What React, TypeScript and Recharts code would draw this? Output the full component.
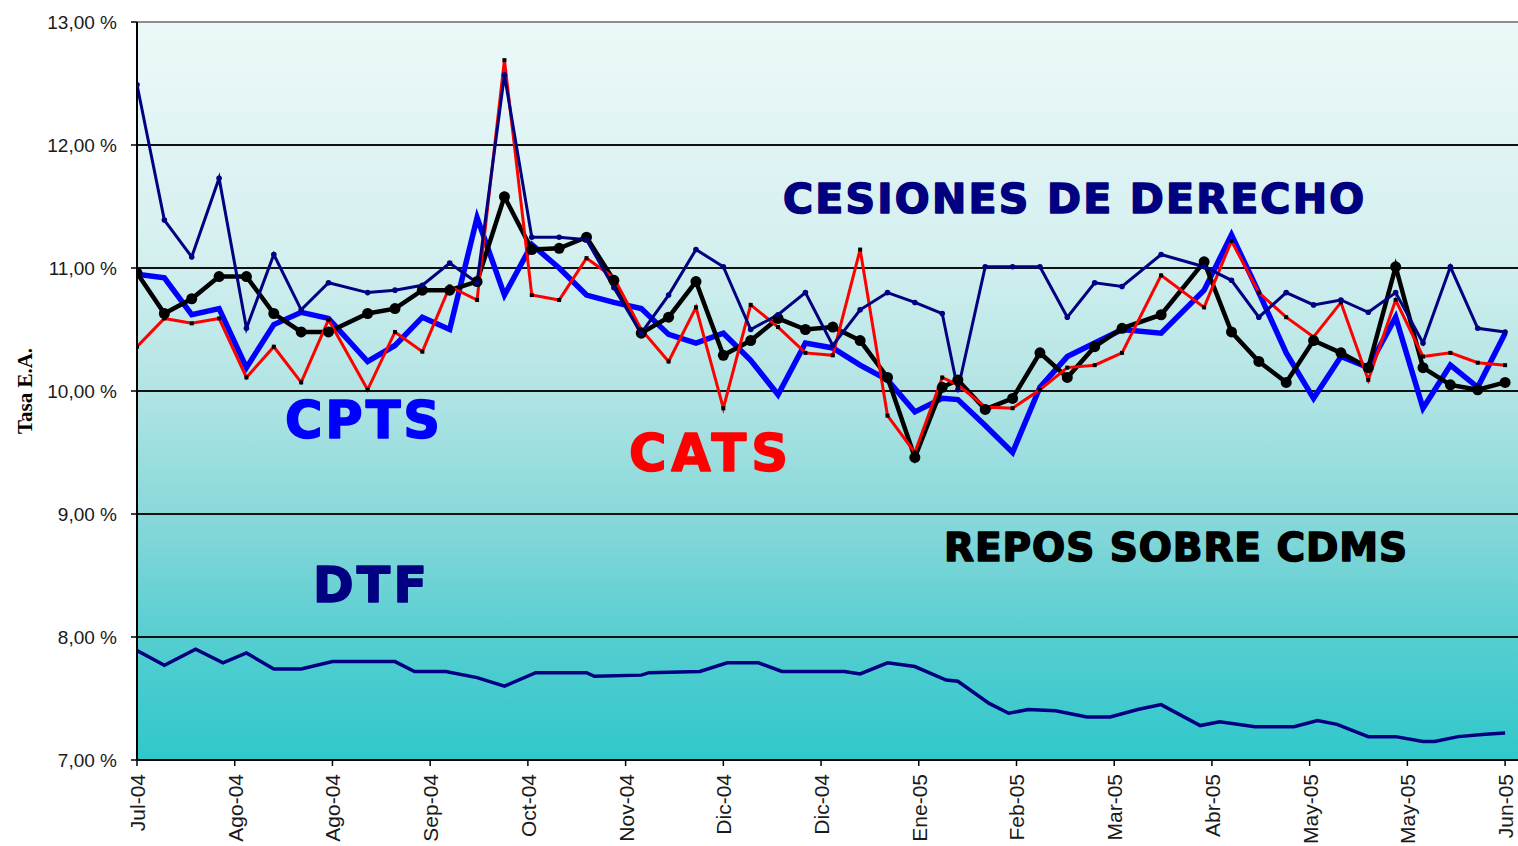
import React from 'react';
import { LineChart, Line, XAxis, YAxis, ReferenceLine, ReferenceDot, CartesianGrid } from 'recharts';

// X axis: tick every 25 days, labels as printed
const tickLabels = ['Jul-04', 'Ago-04', 'Ago-04', 'Sep-04', 'Oct-04', 'Nov-04', 'Dic-04', 'Dic-04', 'Ene-05', 'Feb-05', 'Mar-05', 'Abr-05', 'May-05', 'May-05', 'Jun-05'];
const tickDays = tickLabels.map((_, i) => i * 25);
const yTicks = [7, 8, 9, 10, 11, 12, 13];

// Weekly observations (day offset from first tick)
const days = [0, 7, 14, 21, 28, 35, 42, 49, 59, 66, 73, 80, 87, 94, 101, 108, 115, 122, 129, 136, 143, 150, 157, 164, 171, 178, 185, 192, 199, 206, 210, 217, 224, 231, 238, 245, 252, 262, 273, 280, 287, 294, 301, 308, 315, 322, 329, 336, 343, 350];

const repos = [10.96, 10.63, 10.75, 10.93, 10.93, 10.63, 10.48, 10.48, 10.63, 10.67,
  10.82, 10.82, 10.89, 11.58, 11.15, 11.16, 11.25, 10.90, 10.47, 10.60,
  10.89, 10.29, 10.41, 10.59, 10.50, 10.52, 10.41, 10.11, 9.46, 10.03,
  10.09, 9.85, 9.94, 10.31, 10.11, 10.36, 10.51, 10.62, 11.05, 10.48,
  10.24, 10.07, 10.41, 10.31, 10.19, 11.01, 10.19, 10.05, 10.01, 10.07];

const cats = [10.36, 10.59, 10.55, 10.59, 10.11, 10.36, 10.07, 10.58, 10.01, 10.48,
  10.32, 10.85, 10.74, 12.69, 10.78, 10.74, 11.08, 10.92, 10.50, 10.24,
  10.68, 9.86, 10.70, 10.52, 10.31, 10.29, 11.15, 9.80, 9.50, 10.11,
  10.05, 9.87, 9.86, 10.01, 10.19, 10.21, 10.31, 10.94, 10.68, 11.22,
  10.80, 10.60, 10.44, 10.72, 10.09, 10.74, 10.28, 10.31, 10.23, 10.21];

const cpts = [10.95, 10.92, 10.62, 10.67, 10.19, 10.54, 10.64, 10.59, 10.24, 10.37,
  10.60, 10.50, 11.41, 10.78, 11.19, 11.00, 10.78, 10.72, 10.67, 10.46,
  10.39, 10.47, 10.25, 9.97, 10.39, 10.35, 10.21, 10.09, 9.83, 9.94,
  9.93, 9.72, 9.50, 10.03, 10.28, 10.39, 10.50, 10.47, 10.82, 11.27,
  10.80, 10.31, 9.94, 10.28, 10.19, 10.60, 9.86, 10.21, 10.03, 10.47];

const cesiones = [12.49, 11.39, 11.09, 11.73, 10.51, 11.11, 10.66, 10.88, 10.80, 10.82,
  10.86, 11.04, 10.88, 12.57, 11.25, 11.25, 11.23, 10.84, 10.47, 10.78,
  11.15, 11.01, 10.50, 10.62, 10.80, 10.37, 10.66, 10.80, 10.72, 10.63,
  10.01, 11.01, 11.01, 11.01, 10.60, 10.88, 10.85, 11.11, 11.01, 10.90,
  10.60, 10.80, 10.70, 10.74, 10.64, 10.80, 10.39, 11.01, 10.51, 10.48];

// DTF observations
const dtfDays = [0, 7, 15, 22, 28, 35, 42, 50, 66, 71, 79, 87, 94, 102, 115, 117, 129, 131, 144, 151, 159, 165, 181, 185, 192, 199, 207, 210, 218, 223, 228, 235, 243, 249, 256, 262, 272, 277, 286, 296, 302, 307, 315, 322, 329, 332, 338, 345, 350];
const dtfValues = [7.89, 7.77, 7.90, 7.79, 7.87, 7.74, 7.74, 7.80, 7.80, 7.72, 7.72, 7.67, 7.60, 7.71, 7.71, 7.68,
  7.69, 7.71, 7.72, 7.79, 7.79, 7.72, 7.72, 7.70, 7.79, 7.76, 7.65, 7.64, 7.46, 7.38, 7.41, 7.40,
  7.35, 7.35, 7.41, 7.45, 7.28, 7.31, 7.27, 7.27, 7.32, 7.29, 7.19, 7.19, 7.15, 7.15, 7.19, 7.21, 7.22];

// Series captions placed in data coordinates
const captions = [
  { text: 'CESIONES DE DERECHO', day: 239.6, value: 11.447, color: '#000080', size: 41, width: 581 },
  { text: 'CPTS', day: 57.7, value: 9.618, color: '#0000FF', size: 51, width: 155 },
  { text: 'CATS', day: 146.2, value: 9.35, color: '#FF0000', size: 51, width: 159 },
  { text: 'REPOS SOBRE CDMS', day: 265.7, value: 8.618, color: '#000000', size: 39, width: 463 },
  { text: 'DTF', day: 59.6, value: 8.285, color: '#000080', size: 49, width: 114 },
];

type Row = { day: number; repos?: number; cats?: number; cpts?: number; cesiones?: number; dtf?: number };
const rowMap = new Map<number, Row>();
days.forEach((d, i) => {
  rowMap.set(d, { day: d, repos: repos[i], cats: cats[i], cpts: cpts[i], cesiones: cesiones[i] });
});
dtfDays.forEach((d, i) => {
  const r = rowMap.get(d) || { day: d };
  r.dtf = dtfValues[i];
  rowMap.set(d, r);
});
const data = Array.from(rowMap.values()).sort((a, b) => a.day - b.day);

const TICK_FONT = "'Liberation Sans', Arial, sans-serif";

const YTick = (props: any) => {
  const { x, y, payload } = props;
  const label = Number(payload.value).toFixed(2).replace('.', ',') + ' %';
  return (
    <text x={x} y={y + 7} textAnchor="end" fontFamily={TICK_FONT} fontSize={19} fill="#1a1a1a">
      {label}
    </text>
  );
};

const XTick = (props: any) => {
  const { x, y, payload } = props;
  const label = tickLabels[Math.round(payload.value / 25)];
  return (
    <text transform={`translate(${x + 8},${y}) rotate(-90)`} textAnchor="end" fontFamily={TICK_FONT} fontSize={21} fill="#1a1a1a">
      {label}
    </text>
  );
};

const SquareDot = (props: any) => {
  const { cx, cy, index } = props;
  if (cx == null || cy == null || isNaN(cy)) return <g key={`sq-${index}`} />;
  return <rect key={`sq-${index}`} x={cx - 2} y={cy - 2} width={4} height={4} fill="#000" />;
};

const SmallDot = (props: any) => {
  const { cx, cy, index } = props;
  if (cx == null || cy == null || isNaN(cy)) return <g key={`sd-${index}`} />;
  return <circle key={`sd-${index}`} cx={cx} cy={cy} r={2.8} fill="#000080" />;
};

const BigDot = (props: any) => {
  const { cx, cy, index } = props;
  if (cx == null || cy == null || isNaN(cy)) return <g key={`bd-${index}`} />;
  return <circle key={`bd-${index}`} cx={cx} cy={cy} r={5.5} fill="#000" />;
};

export default function App() {
  return (
    <div style={{ position: 'absolute', left: 0, top: 0, width: 1518, height: 846, background: '#fff' }}>
      <LineChart width={1518} height={846} data={data} margin={{ top: 22, right: 0, bottom: 0, left: 0 }}>
        <defs>
          <linearGradient id="bgGrad" x1="0" y1="0" x2="0" y2="1">
            <stop offset="0%" stopColor="#EDF8F8" />
            <stop offset="30%" stopColor="#D6F0F0" />
            <stop offset="50%" stopColor="#B2E4E4" />
            <stop offset="70%" stopColor="#80D6D8" />
            <stop offset="85%" stopColor="#52CDD0" />
            <stop offset="100%" stopColor="#30C8CB" />
          </linearGradient>
        </defs>
        <CartesianGrid horizontal={false} vertical={false} fill="url(#bgGrad)" fillOpacity={1} />
        <XAxis
          dataKey="day"
          type="number"
          domain={[0, 353.3]}
          ticks={tickDays}
          interval={0}
          allowDataOverflow
          height={86}
          tickSize={6}
          tickMargin={8}
          tick={<XTick />}
          axisLine={{ stroke: '#000', strokeWidth: 2 }}
          tickLine={{ stroke: '#000', strokeWidth: 1.5 }}
        />
        <YAxis
          type="number"
          domain={[7, 13]}
          ticks={yTicks}
          interval={0}
          width={137}
          tickSize={6}
          tickMargin={14}
          tick={<YTick />}
          axisLine={{ stroke: '#000', strokeWidth: 2 }}
          tickLine={{ stroke: '#000', strokeWidth: 1.5 }}
          label={{
            content: (p: any) => {
              const vb = p.viewBox || { x: 0, y: 22, width: 137, height: 738 };
              return (
                <text
                  transform={`translate(${vb.x + 32},${vb.y + vb.height / 2}) rotate(-90)`}
                  textAnchor="middle"
                  fontFamily="'Liberation Serif', 'Times New Roman', serif"
                  fontWeight="bold"
                  fontSize={21}
                  fill="#000"
                >
                  Tasa E.A.
                </text>
              );
            },
          }}
        />
        {[8, 9, 10, 11, 12].map((v) => (
          <ReferenceLine key={v} y={v} stroke="#111" strokeWidth={2} />
        ))}
        <ReferenceLine y={13} stroke="#8c8c8c" strokeWidth={2} />

        <Line dataKey="dtf" stroke="#000080" strokeWidth={3.5} dot={false} connectNulls isAnimationActive={false} />
        <Line dataKey="cpts" stroke="#0000FF" strokeWidth={5.5} dot={false} connectNulls isAnimationActive={false} />
        <Line dataKey="repos" stroke="#000" strokeWidth={4.5} dot={<BigDot />} connectNulls isAnimationActive={false} />
        <Line dataKey="cats" stroke="#FF0000" strokeWidth={3} dot={<SquareDot />} connectNulls isAnimationActive={false} />
        <Line dataKey="cesiones" stroke="#000080" strokeWidth={3} dot={<SmallDot />} connectNulls isAnimationActive={false} />

        {captions.map((c) => (
          <ReferenceDot
            key={c.text}
            x={c.day}
            y={c.value}
            r={0}
            shape={(p: any) => (
              <text
                x={p.cx}
                y={p.cy}
                textAnchor="middle"
                textLength={c.width}
                lengthAdjust="spacing"
                fontFamily="'DejaVu Sans', Verdana, sans-serif"
                fontWeight="bold"
                fontSize={c.size}
                fill={c.color}
                stroke={c.color}
                strokeWidth={1.6}
                strokeLinejoin="round"
              >
                {c.text}
              </text>
            )}
          />
        ))}
      </LineChart>
    </div>
  );
}
